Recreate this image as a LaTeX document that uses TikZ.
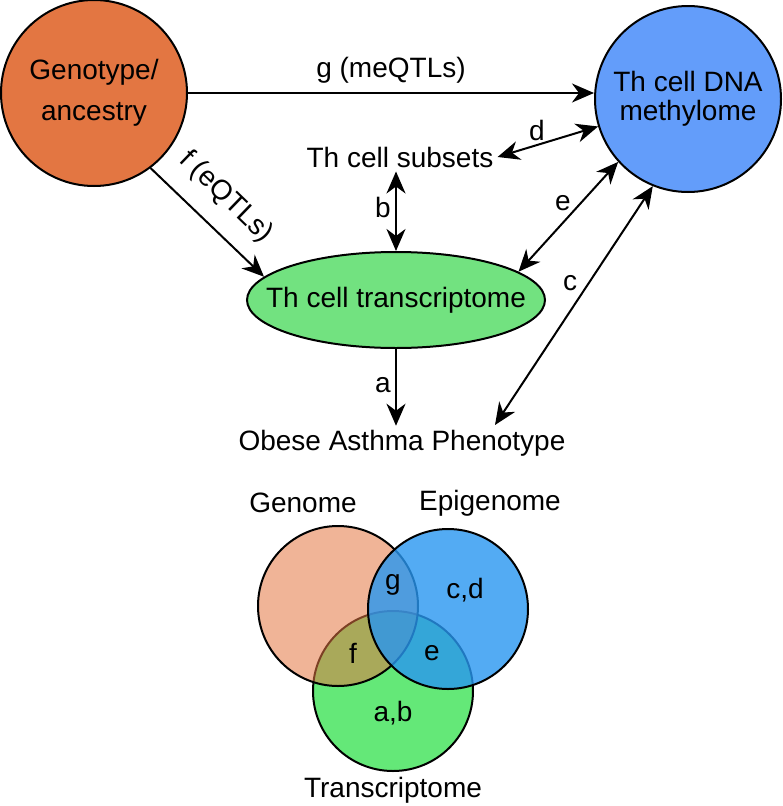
\documentclass[tikz,border=0pt]{standalone}
\usepackage{fontspec}
\setmainfont{Liberation Sans}
\usetikzlibrary{arrows.meta,shapes.geometric,calc}
\definecolor{genoC}{RGB}{227,118,66}
\definecolor{methC}{RGB}{99,157,250}
\definecolor{transC}{RGB}{114,226,128}
\definecolor{vGreen}{RGB}{100,232,120}
\definecolor{vBlue}{RGB}{40,150,240}
\begin{document}
\begin{tikzpicture}[x=1pt,y=-1pt,
  every node/.style={font=\fontsize{28}{33}\selectfont},
  bigcirc/.style={circle,draw=black,line width=2pt,minimum size=186pt,inner sep=0pt,align=center},
  lbl/.style={inner sep=0pt},
  conn/.style={line width=2pt},
  >={Stealth[length=22pt,width=19pt,inset=7pt]},
  venn/.style={circle,draw=black,line width=2pt,minimum size=160pt,inner sep=0pt}]
\useasboundingbox (0,0) rectangle (783,806);
% main nodes
\node[bigcirc,fill=genoC] (geno) at (94,93) {\raisebox{4pt}{Genotype/}\\[4pt]ancestry};
\node[bigcirc,fill=methC] (meth) at (688,99) {Th cell DNA\\[-4pt]methylome};
\node[ellipse,draw=black,line width=2pt,fill=transC,minimum width=298pt,minimum height=96pt,inner sep=0pt] (trans) at (396,300) {\makebox[0pt]{Th cell transcriptome}};
\node[inner sep=4pt] (subsets) at (400,157) {Th cell subsets};
\node[inner sep=4pt] (pheno) at (402,443) {Obese Asthma Phenotype};
\coordinate (cend) at (495,425);
% connectors
\draw[conn,->] (geno.east) -- (meth.west |- geno.east) node[lbl,pos=0.5,above=9pt] {g (meQTLs)};
\draw[conn,<->] (subsets.east) -- (meth.197);
\draw[conn,<->] (trans.north |- subsets.south) -- (trans.north);
\draw[conn,->] (geno.-53) -- (trans.170);
\draw[conn,<->] (meth.222) -- (trans.13);
\draw[conn,<->] (meth.248) -- (cend);
\draw[conn,->] (trans.south) -- (trans.south |- pheno.north);
% labels
\node[lbl] (ld) at (537,130) {d};
\node[lbl] (lb) at (383,207) {b};
\node[lbl] (le) at (563,203) {e};
\node[lbl] (lc) at (570,283) {c};
\node[lbl] (la) at (383,385) {a};
\node[lbl,rotate=-44] (lf) at (226,197) {f (eQTLs)};
% Venn
\node[venn,fill=vGreen] (vt) at (393,691) {};
\node[venn,fill=genoC,fill opacity=0.55] (vg) at (338,606) {};
\node[venn,fill=vBlue,fill opacity=0.8] (ve) at (448,609) {};
\node[lbl] (tg) at (303,503) {Genome};
\node[lbl] (te) at (490,503) {Epigenome};
\node[lbl] (tt) at (393,790) {Transcriptome};
\node[lbl] (rg) at (393,585) {g};
\node[lbl] (rcd) at (465,590) {c,d};
\node[lbl] (rf) at (353,653) {f};
\node[lbl] (re) at (432,653) {e};
\node[lbl] (rab) at (393,713) {a,b};
\end{tikzpicture}
\end{document}
